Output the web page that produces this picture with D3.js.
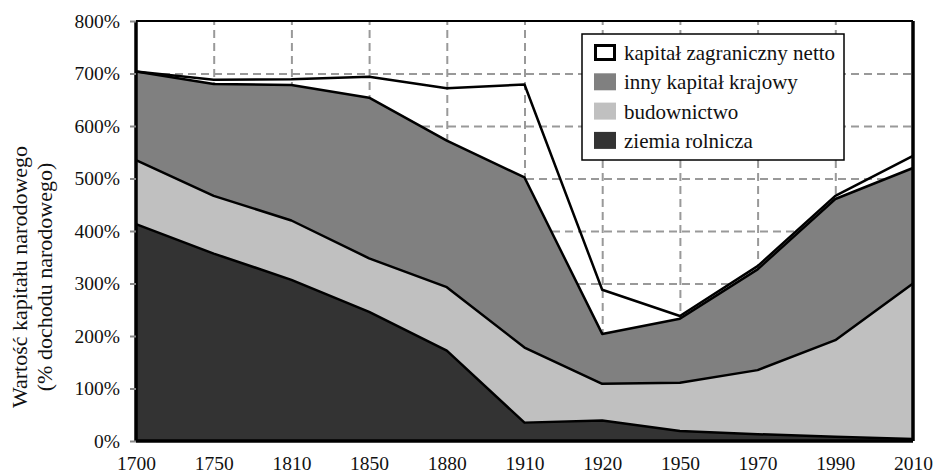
<html>
<head>
  <script src="https://d3js.org/d3.v7.min.js"></script>
</head>
<body style="margin:0">
<svg id="p" width="936" height="473"></svg>
<script>
  // data (% of national income)
  const years = ["1700","1750","1810","1850","1880","1910","1920","1950","1970","1990","2010"];
  const land = [413,357,307,246,172,35,39,19,13,8,4];
  const housing = [122,110,113,102,121,143,70,92,122,184,296];
  const otherDomestic = [169,213,258,306,279,324,95,122,192,269,220];
  const foreignNet = [0,8,11,40,100,177,84,5,6,6,23];
  const yTicks = [0,100,200,300,400,500,600,700,800];

  const keys = ["land","housing","other","foreign"];
  const labels = {
    foreign: "kapitał zagraniczny netto",
    other: "inny kapitał krajowy",
    housing: "budownictwo",
    land: "ziemia rolnicza"
  };
  const fills = {foreign: "none", other: "#808080", housing: "#c0c0c0", land: "#333333"};
  const serif = "'Liberation Serif'";

  const data = years.map((y, i) => ({
    year: y, land: land[i], housing: housing[i], other: otherDomestic[i], foreign: foreignNet[i]
  }));

  const svg = d3.select("svg#p");
  const width = +svg.attr("width");
  const height = +svg.attr("height");
  const margin = {top: 21, right: 23, bottom: 32, left: 136};
  const chartWidth = width - margin.left - margin.right;
  const chartHeight = height - margin.top - margin.bottom;

  const x = d3.scalePoint().domain(years).range([0, chartWidth]);
  const y = d3.scaleLinear().domain([0, 800]).range([chartHeight, 0]);

  const g = svg.append("g").attr("transform", "translate(" + margin.left + "," + margin.top + ")");

  // dashed grid
  const gridY = g.append("g")
    .call(d3.axisLeft(y).tickValues(yTicks.slice(1, -1)).tickSize(-chartWidth).tickFormat(""));
  const gridX = g.append("g")
    .attr("transform", "translate(0," + chartHeight + ")")
    .call(d3.axisBottom(x).tickValues(years.slice(1, -1)).tickSize(chartHeight).tickFormat(""));
  gridX.selectAll("line").attr("y2", -chartHeight);
  [gridX, gridY].forEach(gr => {
    gr.select(".domain").remove();
    gr.selectAll("line").attr("stroke", "#999").attr("stroke-width", 2).attr("stroke-dasharray", "8,5");
  });

  const series = d3.stack().keys(keys)(data);

  const area = d3.area()
    .x(d => x(d.data.year))
    .y0(d => y(d[0]))
    .y1(d => y(d[1]));
  const topLine = d3.line()
    .x(d => x(d.data.year))
    .y(d => y(d[1]));

  g.selectAll("path.area").data(series).join("path")
    .attr("class", "area")
    .attr("d", area)
    .attr("fill", d => fills[d.key]);

  g.selectAll("path.top").data(series.slice().reverse()).join("path")
    .attr("class", "top")
    .attr("d", topLine)
    .attr("fill", "none")
    .attr("stroke", "#000")
    .attr("stroke-width", 2.5)
    .attr("stroke-linejoin", "round");

  // frame
  g.append("line").attr("x1", 0).attr("x2", chartWidth).attr("y1", 0).attr("y2", 0)
    .attr("stroke", "#000").attr("stroke-width", 2);
  g.append("line").attr("x1", 0).attr("x2", 0).attr("y1", 0).attr("y2", chartHeight)
    .attr("stroke", "#000").attr("stroke-width", 3.5);
  g.append("line").attr("x1", chartWidth).attr("x2", chartWidth).attr("y1", 0).attr("y2", chartHeight)
    .attr("stroke", "#000").attr("stroke-width", 3.5);
  g.append("line").attr("x1", 0).attr("x2", chartWidth).attr("y1", chartHeight).attr("y2", chartHeight)
    .attr("stroke", "#000").attr("stroke-width", 3.5);

  // axes
  const yAxis = g.append("g")
    .call(d3.axisLeft(y).tickValues(yTicks).tickSize(6).tickPadding(10).tickFormat(d => d + "%"));
  yAxis.attr("font-family", null).attr("font-size", null);
  yAxis.select(".domain").remove();
  yAxis.selectAll("line").attr("stroke", "#888").attr("stroke-width", 2);
  yAxis.selectAll("text")
    .style("font-family", serif).style("font-size", "19.5px").attr("fill", "#111");

  const xAxis = g.append("g")
    .attr("transform", "translate(0," + chartHeight + ")")
    .call(d3.axisBottom(x).tickSize(0).tickPadding(15));
  xAxis.attr("font-family", null).attr("font-size", null);
  xAxis.select(".domain").remove();
  xAxis.selectAll("text")
    .style("font-family", serif).style("font-size", "19.5px").attr("fill", "#111");

  // y title
  const title = svg.append("text")
    .attr("transform", "translate(27,277) rotate(-90)")
    .attr("text-anchor", "middle")
    .attr("fill", "#111")
    .style("font-family", serif)
    .style("font-size", "22px");
  title.append("tspan").attr("x", 0).attr("dy", 0).text("Wartość kapitału narodowego");
  title.append("tspan").attr("x", 0).attr("dy", 25).text("(% dochodu narodowego)");

  // legend
  const legend = svg.append("g").attr("transform", "translate(582,34)");
  legend.append("rect").attr("width", 262).attr("height", 126)
    .attr("fill", "#fff").attr("stroke", "#000").attr("stroke-width", 1.5);
  const items = legend.selectAll("g.item").data(keys.slice().reverse()).join("g")
    .attr("class", "item")
    .attr("transform", (d, i) => "translate(12," + (10 + i * 29.3) + ")");
  items.append("rect")
    .attr("x", d => d === "foreign" ? 1.5 : 0)
    .attr("y", d => d === "foreign" ? 1.5 : 0)
    .attr("width", d => d === "foreign" ? 19 : 22)
    .attr("height", d => d === "foreign" ? 14 : 17)
    .attr("fill", d => d === "foreign" ? "#fff" : fills[d])
    .attr("stroke", d => d === "foreign" ? "#000" : "none")
    .attr("stroke-width", 3);
  items.append("text")
    .attr("x", 30).attr("y", 16)
    .attr("fill", "#111")
    .style("font-family", serif)
    .style("font-size", "21px")
    .text(d => labels[d]);
</script>
</body>
</html>
